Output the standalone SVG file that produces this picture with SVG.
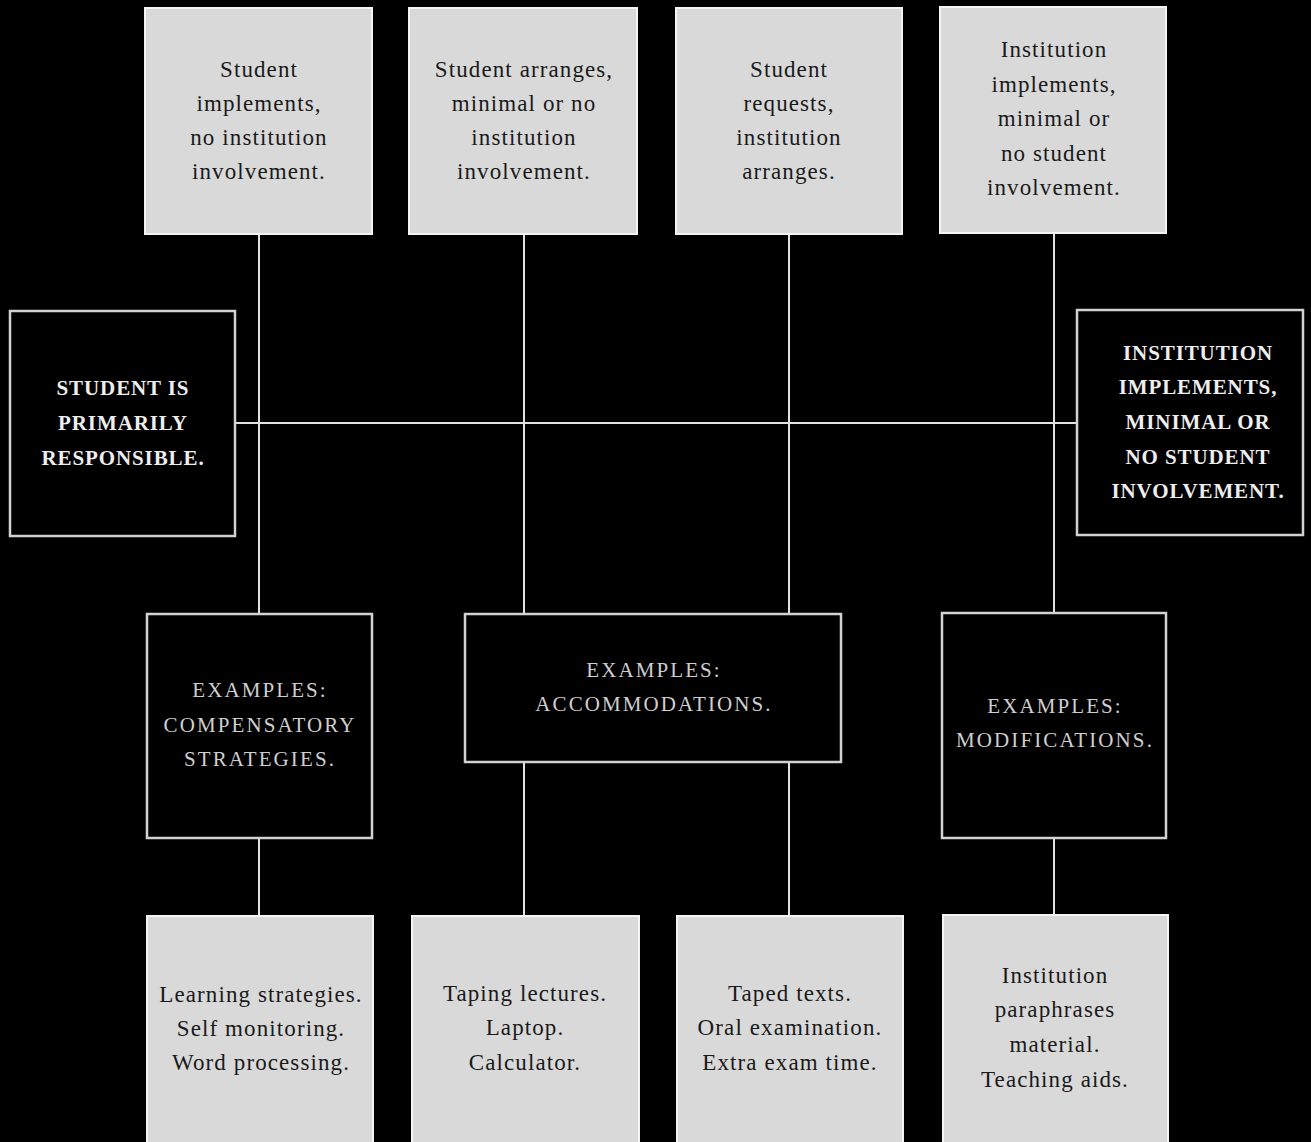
<svg xmlns="http://www.w3.org/2000/svg" width="1311" height="1142" viewBox="0 0 1311 1142">
<style>
.light rect{fill:#d9d9d9;stroke:#f4f4f4;stroke-width:2}
.dark rect{fill:#000;stroke:#d2d2d2;stroke-width:2.5}
.lt{font-family:"Liberation Serif","DejaVu Serif",serif;font-size:23px;letter-spacing:1.1px;fill:#1a1a1a;text-anchor:middle}
.bt{font-family:"Liberation Serif","DejaVu Serif",serif;font-size:21px;font-weight:bold;letter-spacing:0.9px;fill:#eeeeee;text-anchor:middle}
.et{font-family:"Liberation Serif","DejaVu Serif",serif;font-size:21px;letter-spacing:2.1px;fill:#cfcfcf;text-anchor:middle}
.conn line{stroke:#e2e2e2;stroke-width:2}
</style>
<rect x="0" y="0" width="1311" height="1142" fill="#000"/>
<g class="conn">
<line x1="236" y1="423" x2="1077" y2="423"/>
<line x1="259" y1="234" x2="259" y2="614"/>
<line x1="259" y1="838" x2="259" y2="916"/>
<line x1="524" y1="234" x2="524" y2="614"/>
<line x1="524" y1="762" x2="524" y2="916"/>
<line x1="789" y1="234" x2="789" y2="614"/>
<line x1="789" y1="762" x2="789" y2="916"/>
<line x1="1054" y1="233" x2="1054" y2="613"/>
<line x1="1054" y1="838" x2="1054" y2="915"/>
</g>
<g id="top1" class="light"><rect x="145" y="8" width="227" height="226"/>
<text class="lt"><tspan x="259" y="77">Student</tspan><tspan x="259" y="111">implements,</tspan><tspan x="259" y="145">no institution</tspan><tspan x="259" y="179">involvement.</tspan></text></g>
<g id="top2" class="light"><rect x="409" y="8" width="228" height="226"/>
<text class="lt"><tspan x="524" y="77">Student arranges,</tspan><tspan x="524" y="111">minimal or no</tspan><tspan x="524" y="145">institution</tspan><tspan x="524" y="179">involvement.</tspan></text></g>
<g id="top3" class="light"><rect x="676" y="8" width="226" height="226"/>
<text class="lt"><tspan x="789" y="77">Student</tspan><tspan x="789" y="111">requests,</tspan><tspan x="789" y="145">institution</tspan><tspan x="789" y="179">arranges.</tspan></text></g>
<g id="top4" class="light"><rect x="940" y="7" width="226" height="226"/>
<text class="lt"><tspan x="1054" y="57">Institution</tspan><tspan x="1054" y="92">implements,</tspan><tspan x="1054" y="126">minimal or</tspan><tspan x="1054" y="161">no student</tspan><tspan x="1054" y="195">involvement.</tspan></text></g>
<g id="left" class="dark"><rect x="10" y="311" width="225" height="225"/>
<text class="bt"><tspan x="123" y="395">STUDENT IS</tspan><tspan x="123" y="430">PRIMARILY</tspan><tspan x="123" y="465">RESPONSIBLE.</tspan></text></g>
<g id="right" class="dark"><rect x="1077" y="310" width="226" height="225"/>
<text class="bt"><tspan x="1198" y="360">INSTITUTION</tspan><tspan x="1198" y="394">IMPLEMENTS,</tspan><tspan x="1198" y="429">MINIMAL OR</tspan><tspan x="1198" y="464">NO STUDENT</tspan><tspan x="1198" y="498">INVOLVEMENT.</tspan></text></g>
<g id="ex1" class="dark"><rect x="147" y="614" width="225" height="224"/>
<text class="et"><tspan x="260" y="697">EXAMPLES:</tspan><tspan x="260" y="732">COMPENSATORY</tspan><tspan x="260" y="766">STRATEGIES.</tspan></text></g>
<g id="ex2" class="dark"><rect x="465" y="614" width="376" height="148"/>
<text class="et"><tspan x="654" y="677">EXAMPLES:</tspan><tspan x="654" y="711">ACCOMMODATIONS.</tspan></text></g>
<g id="ex3" class="dark"><rect x="942" y="613" width="224" height="225"/>
<text class="et"><tspan x="1055" y="713">EXAMPLES:</tspan><tspan x="1055" y="747">MODIFICATIONS.</tspan></text></g>
<g id="bot1" class="light"><rect x="147" y="916" width="226" height="230"/>
<text class="lt"><tspan x="261" y="1002">Learning strategies.</tspan><tspan x="261" y="1036">Self monitoring.</tspan><tspan x="261" y="1070">Word processing.</tspan></text></g>
<g id="bot2" class="light"><rect x="412" y="916" width="227" height="230"/>
<text class="lt"><tspan x="525" y="1001">Taping lectures.</tspan><tspan x="525" y="1035">Laptop.</tspan><tspan x="525" y="1070">Calculator.</tspan></text></g>
<g id="bot3" class="light"><rect x="677" y="916" width="226" height="230"/>
<text class="lt"><tspan x="790" y="1001">Taped texts.</tspan><tspan x="790" y="1035">Oral examination.</tspan><tspan x="790" y="1070">Extra exam time.</tspan></text></g>
<g id="bot4" class="light"><rect x="943" y="915" width="225" height="231"/>
<text class="lt"><tspan x="1055" y="983">Institution</tspan><tspan x="1055" y="1017">paraphrases</tspan><tspan x="1055" y="1052">material.</tspan><tspan x="1055" y="1087">Teaching aids.</tspan></text></g>
</svg>
